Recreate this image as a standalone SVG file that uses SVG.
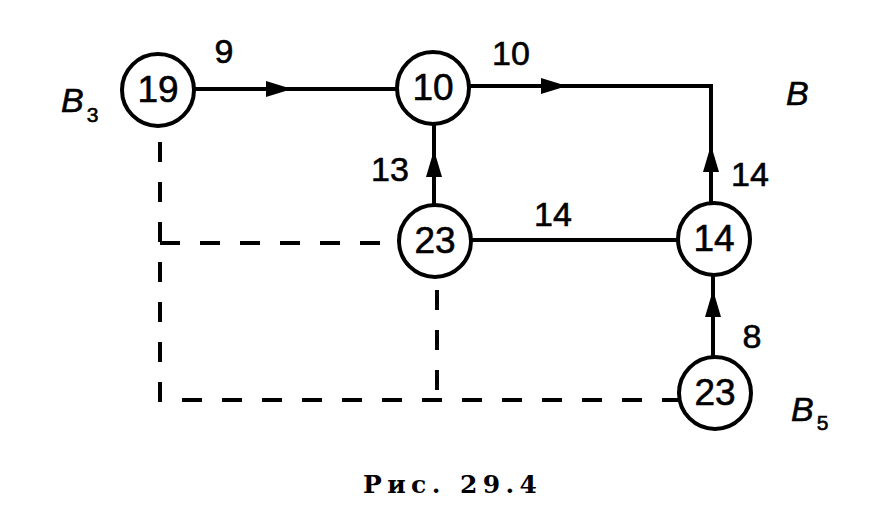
<svg xmlns="http://www.w3.org/2000/svg" width="878" height="522" viewBox="0 0 878 522">
<style>
.n{fill:#fff;stroke:#000;stroke-width:4}
.e{fill:none;stroke:#000;stroke-width:4}
.d{fill:none;stroke:#000;stroke-width:4;stroke-dasharray:20 20}
.t{font-family:"Liberation Sans",Arial,sans-serif;font-size:37px;text-anchor:middle;fill:#000;stroke:#000;stroke-width:0.6}
.l{font-family:"Liberation Sans",Arial,sans-serif;font-size:34px;fill:#000;stroke:#000;stroke-width:0.6}
.i{font-style:italic}
.s{font-size:21px}
.cap{font-family:"DejaVu Serif","Liberation Serif",serif;font-weight:bold;font-size:25px;fill:#000}
</style>
<rect width="878" height="522" fill="#fff"/>
<g id="connectors">
<path class="d" d="M160,142 V400 H678"/>
<path class="d" d="M160,243 H398"/>
<path class="d" d="M437,290 V400"/>
<path class="e" d="M193,89 H398"/>
<path class="e" d="M468,86 H711 V204"/>
<path class="e" d="M434,206 V123"/>
<path class="e" d="M470,240 H679"/>
<path class="e" d="M713,358 V274"/>
<polygon points="292,89 266,81 266,97"/>
<polygon points="567,86 541,78 541,94"/>
<polygon points="434,150 426,177 442,177"/>
<polygon points="711,145 703,172 719,172"/>
<polygon points="713,290 705,317 721,317"/>
</g>
<g id="n19"><circle class="n" cx="158" cy="90" r="36"/><text class="t" x="158" y="102">19</text></g>
<g id="n10"><circle class="n" cx="433" cy="88" r="36"/><text class="t" x="433" y="100">10</text></g>
<g id="n23a"><circle class="n" cx="435" cy="241" r="36"/><text class="t" x="435" y="253">23</text></g>
<g id="n14"><circle class="n" cx="714" cy="239" r="36"/><text class="t" x="714" y="251">14</text></g>
<g id="n23b"><circle class="n" cx="715" cy="393" r="36"/><text class="t" x="715" y="405">23</text></g>
<g id="labels">
<text class="l" x="224" y="63" text-anchor="middle">9</text>
<text class="l" x="511" y="65" text-anchor="middle">10</text>
<text class="l" x="390" y="181" text-anchor="middle">13</text>
<text class="l" x="553" y="226" text-anchor="middle">14</text>
<text class="l" x="750" y="186" text-anchor="middle">14</text>
<text class="l" x="752" y="348" text-anchor="middle">8</text>
<text class="l i" x="786" y="105">B</text>
<text class="l" x="61" y="112"><tspan class="i">B</tspan><tspan class="s" dx="3" dy="10">3</tspan></text>
<text class="l" x="791" y="421"><tspan class="i">B</tspan><tspan class="s" dx="3" dy="9">5</tspan></text>
<text class="cap" x="363" y="493" textLength="174" lengthAdjust="spacing">Рис. 29.4</text>
</g>
</svg>
